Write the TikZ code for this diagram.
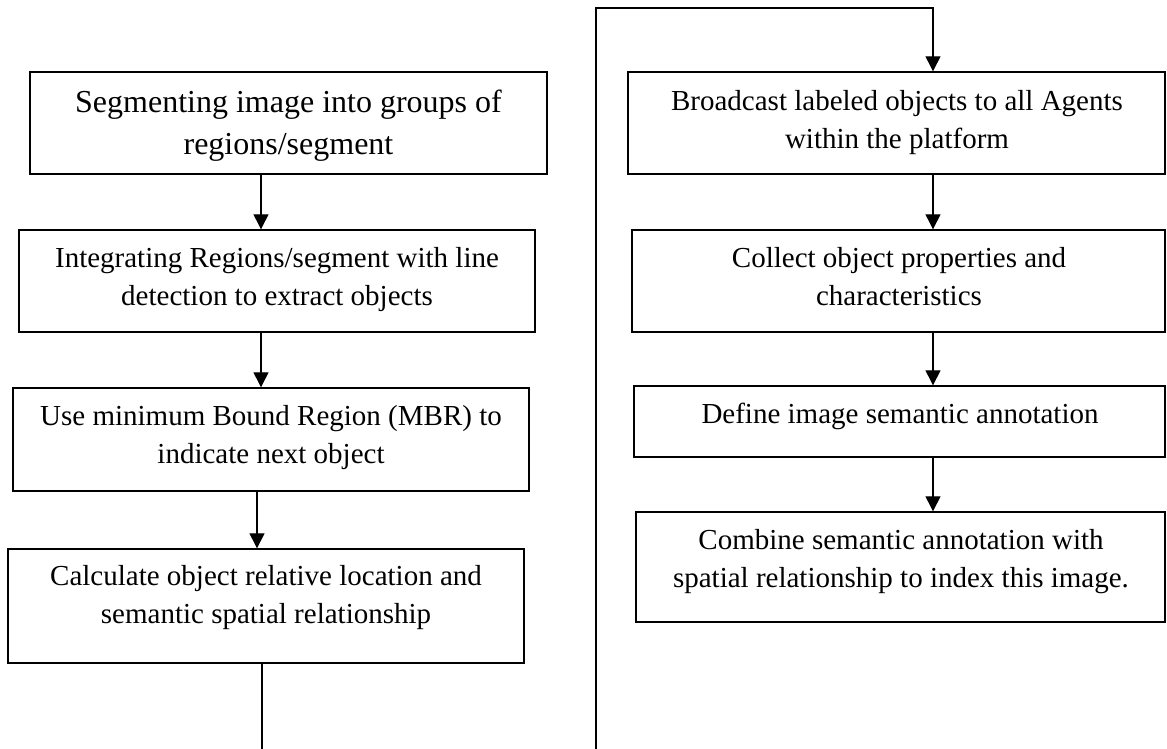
\documentclass[tikz,border=0pt]{standalone}
\usepackage{fontspec}
\setmainfont{Liberation Serif}
\usetikzlibrary{arrows.meta,fit}
\begin{document}
\begin{tikzpicture}[x=1pt,y=-1pt,
  box/.style={draw=black, line width=1.4pt, rectangle, inner sep=0pt},
  txt/.style={align=center, inner sep=0pt, anchor=north},
  big/.style={font=\fontsize{32}{42}\selectfont},
  norm/.style={font=\fontsize{29}{38}\selectfont},
  arr/.style={line width=1.3pt, -{Triangle[length=15pt,width=15pt]}},
  ln/.style={line width=1.3pt}]
\useasboundingbox (0,0) rectangle (1167,749);

% boxes
\node[box, fit={(30,72) (547,174)}] (b1) {};
\node[box, fit={(19,230) (535,332)}] (b2) {};
\node[box, fit={(13,388) (529,491)}] (b3) {};
\node[box, fit={(8,549) (524,663)}] (b4) {};
\node[box, fit={(628,72) (1165,174)}] (b5) {};
\node[box, fit={(632,230) (1165,332)}] (b6) {};
\node[box, fit={(634,386) (1165,457)}] (b7) {};
\node[box, fit={(636,512) (1165,622)}] (b8) {};

% texts
\node[txt, big] (t1) at (288.5,82.6) {\strut Segmenting image into groups of\\regions/segment};
\node[txt, norm] (t2) at (277,240.4) {\strut Integrating Regions/segment with line\\detection to extract objects};
\node[txt, norm] (t3) at (271,398.4) {\strut Use minimum Bound Region (MBR) to\\indicate next object};
\node[txt, norm] (t4) at (266,558.4) {\strut Calculate object relative location and\\semantic spatial relationship};
\node[txt, norm] (t5) at (897,83.4) {\strut Broadcast labeled objects to all Agents\\within the platform};
\node[txt, norm] (t6) at (899,240.4) {\strut Collect object properties and\\characteristics};
\node[txt, norm] (t7) at (900,396.4) {\strut Define image semantic annotation};
\node[txt, norm] (t8) at (901,522.4) {\strut Combine semantic annotation with\\spatial relationship to index this image.};

% connector x positions
\coordinate (xa) at (261,0);
\coordinate (xb) at (257,0);
\coordinate (xc) at (262,0);
\coordinate (xr) at (933,0);
\coordinate (endL) at (262,755);
\coordinate (startR) at (596,755);
\coordinate (topR) at (596,8);

\draw[arr] (b1.south -| xa) -- (b2.north -| xa);
\draw[arr] (b2.south -| xa) -- (b3.north -| xa);
\draw[arr] (b3.south -| xb) -- (b4.north -| xb);
\draw[ln] (b4.south -| xc) -- (endL);
\draw[arr] (startR) -- (topR) -| (b5.north -| xr);
\draw[arr] (b5.south -| xr) -- (b6.north -| xr);
\draw[arr] (b6.south -| xr) -- (b7.north -| xr);
\draw[arr] (b7.south -| xr) -- (b8.north -| xr);
\end{tikzpicture}
\end{document}
